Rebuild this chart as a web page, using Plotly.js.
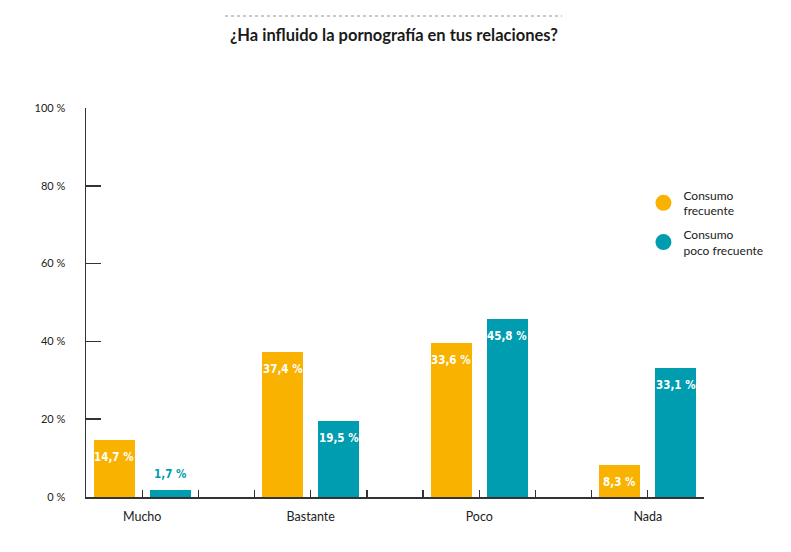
<!DOCTYPE html>
<html>
<head>
<meta charset="utf-8">
<script src="https://cdn.plot.ly/plotly-3.0.1.min.js"></script>
<style>
  html, body { margin: 0; padding: 0; background: #fff; }
  #chart { width: 791px; height: 552px; }
</style>
</head>
<body>
<div id="chart"></div>
<script>
// categories and series
var categories = ['Mucho', 'Bastante', 'Poco', 'Nada'];
var frecuente = [14.7, 37.4, 39.7, 8.3];       // bar heights as drawn
var frecuenteLabels = ['14,7 %', '37,4 %', '33,6 %', '8,3 %'];
var pocoFrecuente = [1.7, 19.5, 45.8, 33.1];
var pocoFrecuenteLabels = ['1,7 %', '19,5 %', '45,8 %', '33,1 %'];
var yTicks = [0, 20, 40, 60, 80, 100];
var yTickText = ['0 %', '20 %', '40 %', '60 %', '80 %', '100 %'];

var orange = '#F9B200';
var teal = '#009CB0';
var axisColor = '#333333';
var font = 'Lato, "Open Sans", sans-serif';
var valueFont = '"DejaVu Sans Condensed", sans-serif';

// each category gets three slots: orange, teal, gap
var xOrange = categories.map(function (c, i) { return 3 * i + 0.5; });
var xTeal = categories.map(function (c, i) { return 3 * i + 1.5; });
var xCat = categories.map(function (c, i) { return 3 * i + 1; });

var traces = [
  {
    type: 'bar', x: xOrange, y: frecuente, width: 0.73,
    marker: {color: orange}, showlegend: false, hoverinfo: 'skip'
  },
  {
    type: 'bar', x: xTeal, y: pocoFrecuente, width: 0.73,
    marker: {color: teal}, showlegend: false, hoverinfo: 'skip'
  },
  // legend entries with round markers
  {
    type: 'scatter', mode: 'markers', x: [null], y: [null], legendgroup: 'a',
    name: 'Consumo<br>frecuente', marker: {color: orange, size: 16}
  },
  {
    type: 'scatter', mode: 'markers', x: [null], y: [null], legendgroup: 'b',
    name: 'Consumo<br>poco frecuente', marker: {color: teal, size: 16}
  }
];

function valueNote(x, v, label, barColor) {
  var small = v < 5;
  return {
    x: x, y: v, xref: 'x', yref: 'y',
    text: '<b>' + label + '</b>', showarrow: false,
    yshift: small ? 16 : -17,
    font: {family: valueFont, size: 11.5, color: small ? barColor : '#ffffff'}
  };
}

var annotations = [];
categories.forEach(function (c, i) {
  annotations.push(valueNote(xOrange[i], frecuente[i], frecuenteLabels[i], orange));
  annotations.push(valueNote(xTeal[i], pocoFrecuente[i], pocoFrecuenteLabels[i], teal));
});

var layout = {
  width: 791,
  height: 552,
  margin: {l: 86, r: 87, t: 108, b: 55},
  paper_bgcolor: '#ffffff',
  plot_bgcolor: '#ffffff',
  font: {family: font, color: '#222222'},
  title: {
    text: '<b>¿Ha influido la pornografía en tus relaciones?</b>',
    font: {family: font, size: 16.5, color: '#1a1a1a'},
    x: 0.498, xref: 'container', xanchor: 'center',
    y: 1 - 35 / 552, yref: 'container', yanchor: 'middle'
  },
  bargap: 0,
  xaxis: {
    range: [0, 11],
    tickvals: xCat,
    ticktext: categories,
    ticks: 'inside', ticklen: 7, tickwidth: 1.3, tickcolor: axisColor,
    minor: {tick0: 0, dtick: 1, ticks: 'inside', ticklen: 7, tickwidth: 1.3, tickcolor: axisColor},
    showline: true, linecolor: axisColor, linewidth: 1.5,
    showgrid: false, zeroline: false, fixedrange: true,
    ticklabelstandoff: 7,
    tickfont: {family: font, size: 12.5, color: '#222222'}
  },
  yaxis: {
    range: [0, 100],
    tickvals: yTicks,
    ticktext: yTickText,
    ticks: 'inside', ticklen: 15, tickwidth: 1.5, tickcolor: axisColor,
    showline: true, linecolor: axisColor, linewidth: 1.5,
    showgrid: false, zeroline: false, fixedrange: true,
    ticklabelstandoff: 17,
    tickfont: {family: font, size: 11, color: '#222222'}
  },
  legend: {
    x: 0.902, y: 0.813, xanchor: 'left', yanchor: 'top',
    font: {family: font, size: 12, color: '#222222'},
    tracegroupgap: 5, itemsizing: 'trace',
    bgcolor: 'rgba(0,0,0,0)'
  },
  shapes: [
    {
      type: 'line', xref: 'paper', yref: 'paper',
      x0: (225 - 86) / 618, x1: (562 - 86) / 618,
      y0: (497 - 16) / 389, y1: (497 - 16) / 389,
      line: {color: '#c8c8c8', width: 2, dash: 'dot'}
    }
  ],
  annotations: annotations
};

Plotly.newPlot('chart', traces, layout, {displayModeBar: false, staticPlot: true});
</script>
</body>
</html>
